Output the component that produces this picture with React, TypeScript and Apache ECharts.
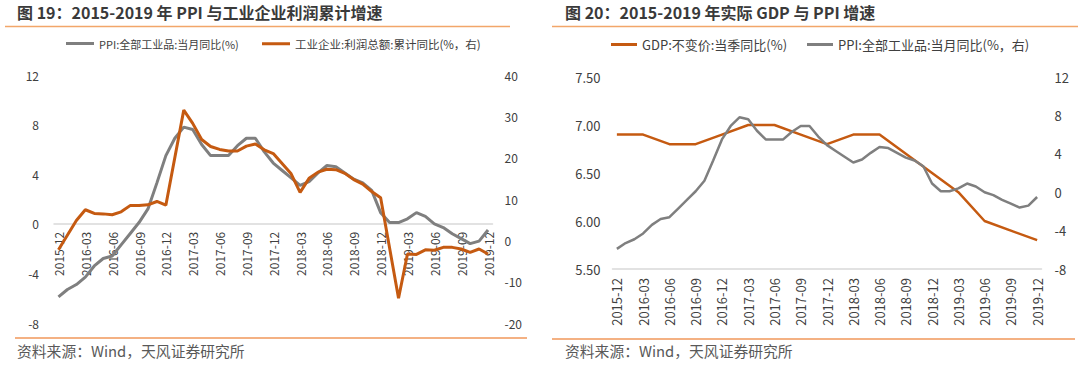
import React, { useEffect, useRef } from "react";
import * as echarts from "echarts";

const months = [
  "2015-12",
  "2016-01", "2016-02", "2016-03", "2016-04", "2016-05", "2016-06", "2016-07", "2016-08", "2016-09", "2016-10", "2016-11", "2016-12",
  "2017-01", "2017-02", "2017-03", "2017-04", "2017-05", "2017-06", "2017-07", "2017-08", "2017-09", "2017-10", "2017-11", "2017-12",
  "2018-01", "2018-02", "2018-03", "2018-04", "2018-05", "2018-06", "2018-07", "2018-08", "2018-09", "2018-10", "2018-11", "2018-12",
  "2019-01", "2019-02", "2019-03", "2019-04", "2019-05", "2019-06", "2019-07", "2019-08", "2019-09", "2019-10", "2019-11", "2019-12",
];

// PPI:全部工业品:当月同比(%)
const ppi = [
  -5.9,
  -5.3, -4.9, -4.3, -3.4, -2.8, -2.6, -1.7, -0.8, 0.1, 1.2, 3.3, 5.5,
  6.9, 7.8, 7.6, 6.4, 5.5, 5.5, 5.5, 6.3, 6.9, 6.9, 5.8, 4.9,
  4.3, 3.7, 3.1, 3.4, 4.1, 4.7, 4.6, 4.1, 3.6, 3.3, 2.7, 0.9,
  0.1, 0.1, 0.4, 0.9, 0.6, 0.0, -0.3, -0.8, -1.2, -1.6, -1.4, -0.5,
];

// 工业企业:利润总额:累计同比(%)
const profit = [
  -2.3,
  null, 4.8, 7.4, 6.5, 6.4, 6.2, 6.9, 8.4, 8.4, 8.6, 9.4, 8.5,
  null, 31.5, 28.3, 24.4, 22.7, 22.0, 21.6, 21.6, 22.8, 23.3, 21.9, 21.0,
  null, 16.1, 11.6, 15.0, 16.5, 17.2, 17.1, 16.2, 14.7, 13.6, 11.8, 10.3,
  null, -14.0, -3.3, -3.4, -2.3, -2.4, -1.7, -1.7, -2.1, -2.9, -2.1, -3.3,
];

// GDP:不变价:当季同比(%)
const gdp = [
  6.9,
  null, null, 6.9, null, null, 6.8, null, null, 6.8, null, null, 6.9,
  null, null, 7.0, null, null, 7.0, null, null, 6.9, null, null, 6.8,
  null, null, 6.9, null, null, 6.9, null, null, 6.7, null, null, 6.5,
  null, null, 6.3, null, null, 6.0, null, null, 5.9, null, null, 5.8,
];

const leftTicksMain = { min: -8, max: 12, interval: 4 };
const leftTicksRight = { min: -20, max: 40, interval: 10 };
const rightTicksMain = { min: 5.5, max: 7.5, interval: 0.5 };
const rightTicksRight = { min: -8, max: 12, interval: 4 };

const title1 = "图 19：2015-2019 年 PPI 与工业企业利润累计增速";
const title2 = "图 20：2015-2019 年实际 GDP 与 PPI 增速";
const sourceText = "资料来源：Wind，天风证券研究所";
const nPPI = "PPI:全部工业品:当月同比(%)";
const nProfit = "工业企业:利润总额:累计同比(%，右)";
const nGDP = "GDP:不变价:当季同比(%)";
const nPPIR = "PPI:全部工业品:当月同比(%，右)";

const ORANGE = "#C55A11";
const GRAY = "#7F7F7F";
const AXIS = "#D9D9D9";
const LABEL = "#404040";
const FONT = "Noto Sans CJK SC";

export default function App() {
  const ref = useRef<HTMLDivElement>(null);
  useEffect(() => {
    if (!ref.current) return;
    const chart = echarts.init(ref.current, null, { renderer: "svg" });
    const yBase = {
      type: "value" as const,
      splitLine: { show: false },
      axisLine: { show: false },
      axisTick: { show: false },
    };
    const legendItem = (name: string, left: number, size: number, w: number) => ({
      data: [name],
      left,
      top: 38,
      padding: 0,
      icon: "rect",
      itemWidth: w,
      itemHeight: 3,
      textStyle: { fontSize: size, color: LABEL, fontFamily: FONT },
    });
    // left chart plot area: y from 75 (top) to 323 (bottom); zero of left axis at 75 + 248*12/20
    const leftTop = 75;
    const leftBottom = 43;
    const zeroY = leftTop + (366 - leftTop - leftBottom) * (leftTicksMain.max / (leftTicksMain.max - leftTicksMain.min));
    chart.setOption({
      animation: false,
      textStyle: { fontFamily: FONT },
      legend: [
        legendItem(nPPI, 66, 11, 28),
        legendItem(nProfit, 262, 11.5, 28),
        legendItem(nGDP, 611, 13, 26),
        legendItem(nPPIR, 807, 13, 26),
      ],
      grid: [
        { left: 54, right: 587.5, top: leftTop, bottom: leftBottom, containLabel: false, outerBoundsMode: "none" },
        { left: 612.5, right: 38.5, top: 77, bottom: 97, containLabel: false, outerBoundsMode: "none" },
        { left: 54, right: 587.5, top: leftTop, bottom: 366 - zeroY, containLabel: false, outerBoundsMode: "none" },
      ],
      xAxis: [
        {
          type: "category",
          gridIndex: 0,
          data: months,
          boundaryGap: true,
          axisLine: { show: false, onZero: false },
          axisTick: { show: false },
          axisLabel: { show: false },
        },
        {
          type: "category",
          gridIndex: 1,
          data: months,
          boundaryGap: true,
          axisLine: { onZero: false, lineStyle: { color: AXIS, width: 1.5 } },
          axisTick: { interval: 2, length: 4, lineStyle: { color: AXIS, width: 1.5 } },
          axisLabel: { interval: 2, rotate: 90, fontSize: 13, color: LABEL, margin: 9, fontFamily: FONT },
        },
        {
          type: "category",
          gridIndex: 2,
          data: months,
          boundaryGap: true,
          axisLine: { onZero: false, lineStyle: { color: AXIS, width: 1.5 } },
          axisTick: { interval: 2, length: 4, lineStyle: { color: AXIS, width: 1.5 } },
          axisLabel: { interval: 2, rotate: 90, fontSize: 12, color: LABEL, margin: 8, fontFamily: FONT },
        },
      ],
      yAxis: [
        { ...yBase, gridIndex: 0, position: "left", ...leftTicksMain, axisLabel: { fontSize: 12, color: LABEL, margin: 15 } },
        { ...yBase, gridIndex: 0, position: "right", ...leftTicksRight, axisLabel: { fontSize: 12, color: LABEL, margin: 12 } },
        {
          ...yBase, gridIndex: 1, position: "left", ...rightTicksMain,
          axisLabel: { fontSize: 13, color: LABEL, margin: 12, formatter: (v: number) => v.toFixed(2) },
        },
        { ...yBase, gridIndex: 1, position: "right", ...rightTicksRight, axisLabel: { fontSize: 13, color: LABEL, margin: 13 } },
        { type: "value", gridIndex: 2, show: false, min: 0, max: 1 },
      ],
      series: [
        {
          name: nPPI, type: "line", xAxisIndex: 0, yAxisIndex: 0, data: ppi,
          symbol: "none", color: GRAY, lineStyle: { width: 3, color: GRAY },
        },
        {
          name: nProfit, type: "line", xAxisIndex: 0, yAxisIndex: 1, data: profit, connectNulls: true,
          symbol: "none", color: ORANGE, lineStyle: { width: 3, color: ORANGE },
        },
        {
          name: nGDP, type: "line", xAxisIndex: 1, yAxisIndex: 2, data: gdp, connectNulls: true,
          symbol: "none", color: ORANGE, lineStyle: { width: 2.5, color: ORANGE },
        },
        {
          name: nPPIR, type: "line", xAxisIndex: 1, yAxisIndex: 3, data: ppi,
          symbol: "none", color: GRAY, lineStyle: { width: 2.5, color: GRAY },
        },
      ],
      graphic: [
        { type: "text", left: 17, top: 4, style: { text: title1, fontSize: 16, fontWeight: "bold", fill: "#3A3A3A", fontFamily: FONT } },
        { type: "line", shape: { x1: 5, y1: 26.5, x2: 510, y2: 26.5 }, style: { stroke: "#F2A66A", lineWidth: 1.5 } },
        { type: "line", shape: { x1: 15, y1: 338, x2: 527, y2: 338 }, style: { stroke: "#F4B183", lineWidth: 2 } },
        { type: "text", left: 17, top: 343, style: { text: sourceText, fontSize: 14.8, fill: "#595959", fontFamily: FONT } },
        { type: "text", left: 565, top: 4, style: { text: title2, fontSize: 16, fontWeight: "bold", fill: "#3A3A3A", fontFamily: FONT } },
        { type: "line", shape: { x1: 552, y1: 26.5, x2: 1078, y2: 26.5 }, style: { stroke: "#F2A66A", lineWidth: 1.5 } },
        { type: "line", shape: { x1: 552, y1: 339, x2: 1075, y2: 339 }, style: { stroke: "#F4B183", lineWidth: 2 } },
        { type: "text", left: 565, top: 343, style: { text: sourceText, fontSize: 14.8, fill: "#595959", fontFamily: FONT } },
      ],
    });
    return () => chart.dispose();
  }, []);
  return (
    <div
      ref={ref}
      style={{ position: "fixed", left: 0, top: 0, width: 1080, height: 366, background: "#fff" }}
    />
  );
}
